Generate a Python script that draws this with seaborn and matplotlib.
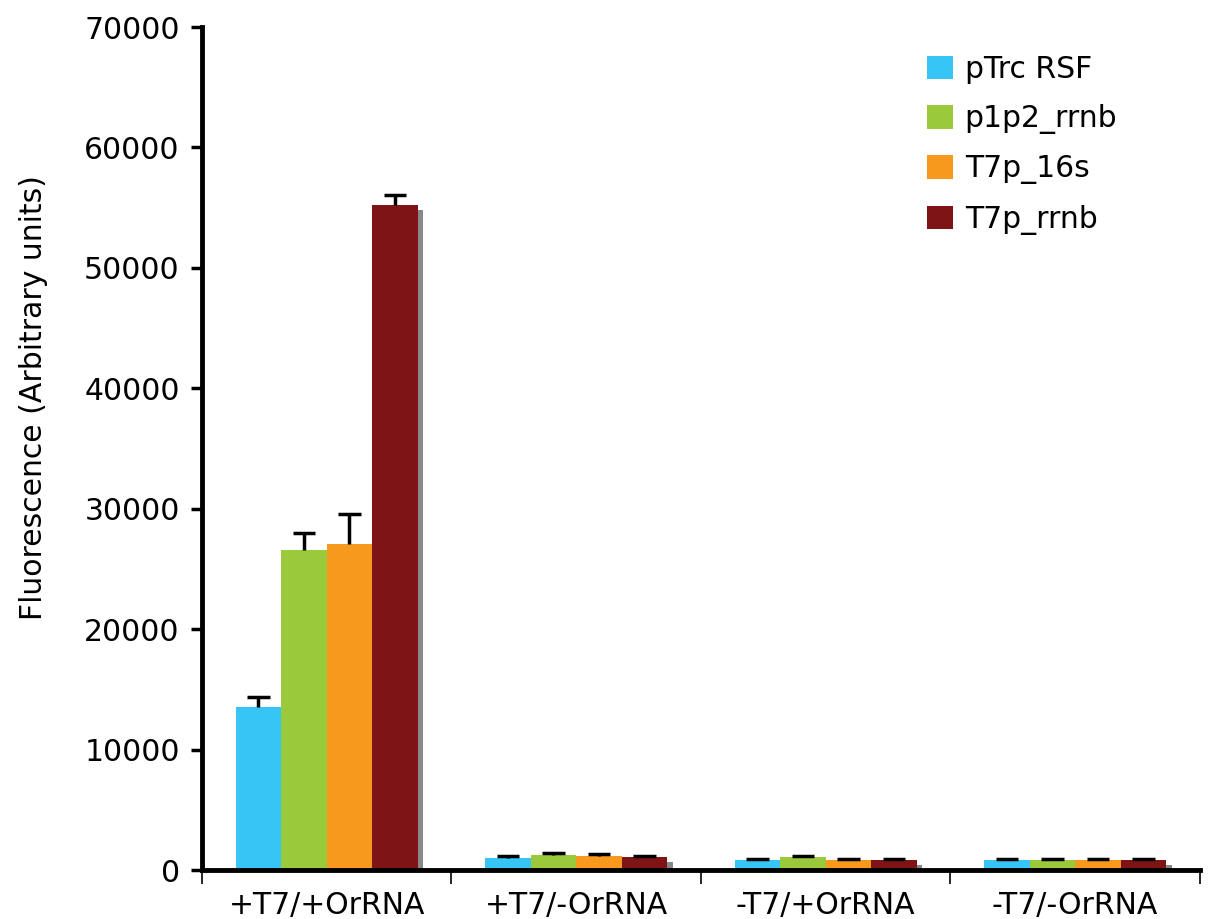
import pandas as pd
import matplotlib.pyplot as plt
import seaborn as sns

# Data
conditions = ["+T7/+OrRNA", "+T7/-OrRNA", "-T7/+OrRNA", "-T7/-OrRNA"]
constructs = ["pTrc RSF", "p1p2_rrnb", "T7p_16s", "T7p_rrnb"]
ptrc_rsf = [13550, 1000, 800, 800]
p1p2_rrnb = [26600, 1250, 1050, 800]
t7p_16s = [27100, 1150, 800, 800]
t7p_rrnb = [55200, 1050, 800, 800]
ptrc_rsf_err = [800, 150, 150, 100]
p1p2_rrnb_err = [1400, 150, 80, 150]
t7p_16s_err = [2450, 150, 100, 150]
t7p_rrnb_err = [850, 100, 100, 100]

colors = ["#36C5F4", "#9ACA3C", "#F7991D", "#7F1416"]

values = [ptrc_rsf, p1p2_rrnb, t7p_16s, t7p_rrnb]
errors = [ptrc_rsf_err, p1p2_rrnb_err, t7p_16s_err, t7p_rrnb_err]
rows = []
for name, vals in zip(constructs, values):
    for cond, v in zip(conditions, vals):
        rows.append({"condition": cond, "construct": name, "value": v})
df = pd.DataFrame(rows)

sns.set_style("white")
plt.rcParams["font.family"] = ["DejaVu Sans"]
plt.rcParams["text.color"] = "black"

fig = plt.figure(figsize=(12.08, 9.19), dpi=100)
ax = fig.add_axes([0.1672, 0.0533, 0.826, 0.9173])

sns.barplot(data=df, x="condition", y="value", hue="construct",
            order=conditions, hue_order=constructs, palette=colors,
            width=0.73, gap=0, errorbar=None, saturation=1,
            linewidth=0, ax=ax, zorder=3)

# shadow behind the last series and upper-only error bars from the drawn patches
n = len(conditions)
patches = ax.patches[:len(constructs) * n]
for i, (vals, errs) in enumerate(zip(values, errors)):
    group = patches[i * n:(i + 1) * n]
    xs = [p.get_x() + p.get_width() / 2 for p in group]
    w = group[0].get_width()
    if i == len(constructs) - 1:
        ax.bar([x + 0.022 for x in xs], [v - 400 for v in vals], width=w,
               color="#888888", linewidth=0, zorder=2)
    tops = [v + e for v, e in zip(vals, errs)]
    ax.vlines(xs, vals, tops, colors="black", linewidth=2.5, zorder=4)
    ax.hlines(tops, [x - 0.045 for x in xs], [x + 0.045 for x in xs],
              colors="black", linewidth=2.5, zorder=4)

ax.set_ylim(0, 70000)
ax.set_xlim(-0.5, n - 0.5)
ax.set_yticks(range(0, 70001, 10000))
ax.tick_params(axis="y", labelsize=21.5, length=8, width=2.5, direction="out",
               left=True, pad=8, colors="black")
ax.set_xticks([i - 0.5 for i in range(n + 1)], minor=True)
ax.tick_params(axis="x", which="minor", length=10, width=1.2, direction="out",
               bottom=True, color="black")
ax.tick_params(axis="x", which="major", length=0, labelsize=21.5, pad=15,
               labelcolor="black")
ax.set_xlabel("")
ax.set_ylabel("Fluorescence (Arbitrary units)", fontsize=21.5, color="black")
ax.yaxis.set_label_coords(-0.154, 0.561)

for side in ["top", "right"]:
    ax.spines[side].set_visible(False)
for side in ["left", "bottom"]:
    ax.spines[side].set_linewidth(3.5)
    ax.spines[side].set_color("black")
    ax.spines[side].set_zorder(5)

leg = ax.legend(loc="upper left", bbox_to_anchor=(0.727, 0.967), frameon=False,
                fontsize=21.5, handlelength=0.85, handleheight=0.85,
                handletextpad=0.4, labelspacing=0.68, borderpad=0,
                borderaxespad=0)
for t in leg.get_texts():
    t.set_color("black")

fig.savefig("out.png", dpi=100)
